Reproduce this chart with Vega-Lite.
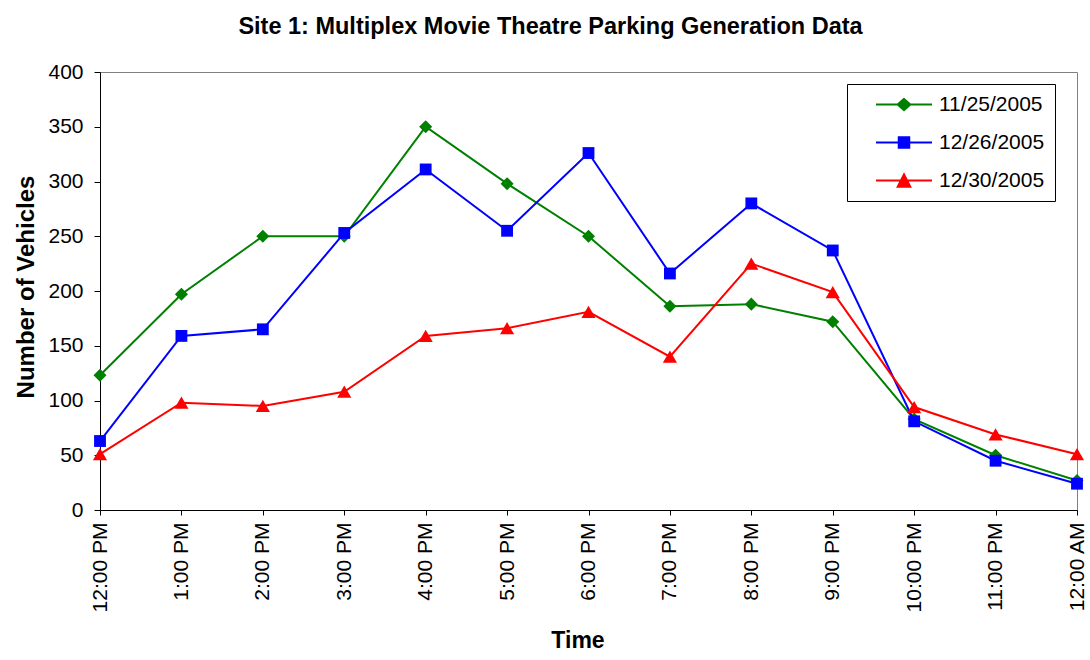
{
  "$schema": "https://vega.github.io/schema/vega-lite/v6.json",
  "width": 977,
  "height": 438,
  "autosize": {"type": "none"},
  "padding": {"left": 100, "top": 72, "right": 13, "bottom": 150},
  "background": "white",
  "title": {
    "text": "Site 1: Multiplex Movie Theatre Parking Generation Data",
    "font": "Liberation Sans",
    "fontSize": 23.5,
    "fontWeight": "bold",
    "color": "black",
    "anchor": "middle",
    "frame": "group",
    "offset": 22.5,
    "dx": -38
  },
  "data": {
    "values": [
      {"time": "12:00 PM", "series": "11/25/2005", "v": 123},
      {"time": "1:00 PM", "series": "11/25/2005", "v": 197},
      {"time": "2:00 PM", "series": "11/25/2005", "v": 250},
      {"time": "3:00 PM", "series": "11/25/2005", "v": 250},
      {"time": "4:00 PM", "series": "11/25/2005", "v": 350},
      {"time": "5:00 PM", "series": "11/25/2005", "v": 298},
      {"time": "6:00 PM", "series": "11/25/2005", "v": 250},
      {"time": "7:00 PM", "series": "11/25/2005", "v": 186},
      {"time": "8:00 PM", "series": "11/25/2005", "v": 188},
      {"time": "9:00 PM", "series": "11/25/2005", "v": 172},
      {"time": "10:00 PM", "series": "11/25/2005", "v": 83},
      {"time": "11:00 PM", "series": "11/25/2005", "v": 50},
      {"time": "12:00 AM", "series": "11/25/2005", "v": 27},
      {"time": "12:00 PM", "series": "12/26/2005", "v": 63},
      {"time": "1:00 PM", "series": "12/26/2005", "v": 159},
      {"time": "2:00 PM", "series": "12/26/2005", "v": 165},
      {"time": "3:00 PM", "series": "12/26/2005", "v": 253},
      {"time": "4:00 PM", "series": "12/26/2005", "v": 311},
      {"time": "5:00 PM", "series": "12/26/2005", "v": 255},
      {"time": "6:00 PM", "series": "12/26/2005", "v": 326},
      {"time": "7:00 PM", "series": "12/26/2005", "v": 216},
      {"time": "8:00 PM", "series": "12/26/2005", "v": 280},
      {"time": "9:00 PM", "series": "12/26/2005", "v": 237},
      {"time": "10:00 PM", "series": "12/26/2005", "v": 81},
      {"time": "11:00 PM", "series": "12/26/2005", "v": 45},
      {"time": "12:00 AM", "series": "12/26/2005", "v": 24},
      {"time": "12:00 PM", "series": "12/30/2005", "v": 51},
      {"time": "1:00 PM", "series": "12/30/2005", "v": 98},
      {"time": "2:00 PM", "series": "12/30/2005", "v": 95},
      {"time": "3:00 PM", "series": "12/30/2005", "v": 108},
      {"time": "4:00 PM", "series": "12/30/2005", "v": 159},
      {"time": "5:00 PM", "series": "12/30/2005", "v": 166},
      {"time": "6:00 PM", "series": "12/30/2005", "v": 181},
      {"time": "7:00 PM", "series": "12/30/2005", "v": 140},
      {"time": "8:00 PM", "series": "12/30/2005", "v": 225},
      {"time": "9:00 PM", "series": "12/30/2005", "v": 199},
      {"time": "10:00 PM", "series": "12/30/2005", "v": 94},
      {"time": "11:00 PM", "series": "12/30/2005", "v": 69},
      {"time": "12:00 AM", "series": "12/30/2005", "v": 51}
    ]
  },
  "encoding": {
    "x": {
      "field": "time",
      "type": "ordinal",
      "sort": ["12:00 PM","1:00 PM","2:00 PM","3:00 PM","4:00 PM","5:00 PM","6:00 PM","7:00 PM","8:00 PM","9:00 PM","10:00 PM","11:00 PM","12:00 AM"],
      "scale": {"type": "point", "padding": 0},
      "axis": {
        "title": "Time",
        "titleFont": "Liberation Sans",
        "titleFontSize": 23,
        "titleFontWeight": "bold",
        "titleColor": "black",
        "titleX": 477.5,
        "titleY": 137,
        "titleAlign": "center",
        "titleBaseline": "alphabetic",
        "labelFont": "Liberation Sans",
        "labelFontSize": 21,
        "labelColor": "black",
        "labelAngle": 270,
        "labelAlign": "right",
        "labelBaseline": "middle",
        "labelPadding": 7,
        "tickSize": 5,
        "tickColor": "black",
        "domainColor": "black",
        "grid": false
      }
    },
    "y": {
      "field": "v",
      "type": "quantitative",
      "scale": {"domain": [0, 400], "nice": false},
      "axis": {
        "title": "Number of Vehicles",
        "titleFont": "Liberation Sans",
        "titleFontSize": 24,
        "titleFontWeight": "bold",
        "titleColor": "black",
        "titleX": -67,
        "titleY": 214.5,
        "titleAngle": 270,
        "titleAlign": "center",
        "titleBaseline": "alphabetic",
        "values": [0, 50, 100, 150, 200, 250, 300, 350, 400],
        "labelFont": "Liberation Sans",
        "labelFontSize": 21,
        "labelColor": "black",
        "labelPadding": 11,
        "tickSize": 6,
        "tickColor": "black",
        "domainColor": "black",
        "grid": false
      }
    }
  },
  "layer": [
    {
      "transform": [{"filter": "datum.series == '11/25/2005'"}],
      "mark": {"type": "line", "strokeWidth": 2, "color": "#008000"}
    },
    {
      "transform": [{"filter": "datum.series == '11/25/2005'"}],
      "mark": {"type": "point", "shape": "diamond", "filled": true, "size": 170, "opacity": 1, "color": "#008000"}
    },
    {
      "transform": [{"filter": "datum.series == '12/26/2005'"}],
      "mark": {"type": "line", "strokeWidth": 2, "color": "#0000FF"}
    },
    {
      "transform": [{"filter": "datum.series == '12/26/2005'"}],
      "mark": {"type": "point", "shape": "square", "filled": true, "size": 140, "opacity": 1, "color": "#0000FF"}
    },
    {
      "transform": [{"filter": "datum.series == '12/30/2005'"}],
      "mark": {"type": "line", "strokeWidth": 2, "color": "#FF0000"}
    },
    {
      "transform": [{"filter": "datum.series == '12/30/2005'"}],
      "mark": {"type": "point", "shape": "triangle-up", "filled": true, "size": 200, "opacity": 1, "color": "#FF0000"}
    },
    {
      "transform": [{"filter": "datum.v < 0"}],
      "mark": {"type": "point", "filled": true, "size": 196, "opacity": 1},
      "encoding": {
        "color": {
          "field": "series",
          "type": "nominal",
          "scale": {"domain": ["11/25/2005", "12/26/2005", "12/30/2005"], "range": ["#008000", "#0000FF", "#FF0000"]},
          "legend": {
            "title": null,
            "orient": "none",
            "legendX": 747,
            "legendY": 12,
            "padding": 10,
            "strokeColor": "black",
            "fillColor": "white",
            "symbolSize": 196,
            "symbolStrokeWidth": 2,
            "symbolOffset": 36.5,
            "labelFont": "Liberation Sans",
            "labelFontSize": 21,
            "labelColor": "black",
            "labelOffset": 24.5,
            "labelExpr": "datum.label + '\u00a0\u00a0\u00a0\u00a0\u00a0'",
            "rowPadding": 16
          }
        },
        "stroke": {
          "field": "series",
          "type": "nominal",
          "scale": {"domain": ["11/25/2005", "12/26/2005", "12/30/2005"], "range": ["#008000", "#0000FF", "#FF0000"]},
          "legend": {
            "title": null,
            "orient": "none",
            "legendX": 747,
            "legendY": 12,
            "padding": 10,
            "strokeColor": "black",
            "fillColor": "white",
            "symbolSize": 196,
            "symbolStrokeWidth": 2,
            "symbolOffset": 36.5,
            "labelFont": "Liberation Sans",
            "labelFontSize": 21,
            "labelColor": "black",
            "labelOffset": 24.5,
            "labelExpr": "datum.label + '\u00a0\u00a0\u00a0\u00a0\u00a0'",
            "rowPadding": 16
          }
        },
        "shape": {
          "field": "series",
          "type": "nominal",
          "scale": {
            "domain": ["11/25/2005", "12/26/2005", "12/30/2005"],
            "range": [
              "M-4,0H4M0,-0.8L0.9,0L0,0.8L-0.9,0Z",
              "M-4,0H4M-0.75,-0.75H0.75V0.75H-0.75Z",
              "M-4,0H4M0,-0.85L0.9,0.9H-0.9Z"
            ]
          },
          "legend": {
            "title": null,
            "orient": "none",
            "legendX": 747,
            "legendY": 12,
            "padding": 10,
            "strokeColor": "black",
            "fillColor": "white",
            "symbolSize": 196,
            "symbolStrokeWidth": 2,
            "symbolOffset": 36.5,
            "labelFont": "Liberation Sans",
            "labelFontSize": 21,
            "labelColor": "black",
            "labelOffset": 24.5,
            "labelExpr": "datum.label + '\u00a0\u00a0\u00a0\u00a0\u00a0'",
            "rowPadding": 16
          }
        }
      }
    }
  ],
  "config": {
    "view": {"stroke": "#808080", "strokeWidth": 1},
    "axis": {"domainWidth": 1, "tickWidth": 1}
  }
}
